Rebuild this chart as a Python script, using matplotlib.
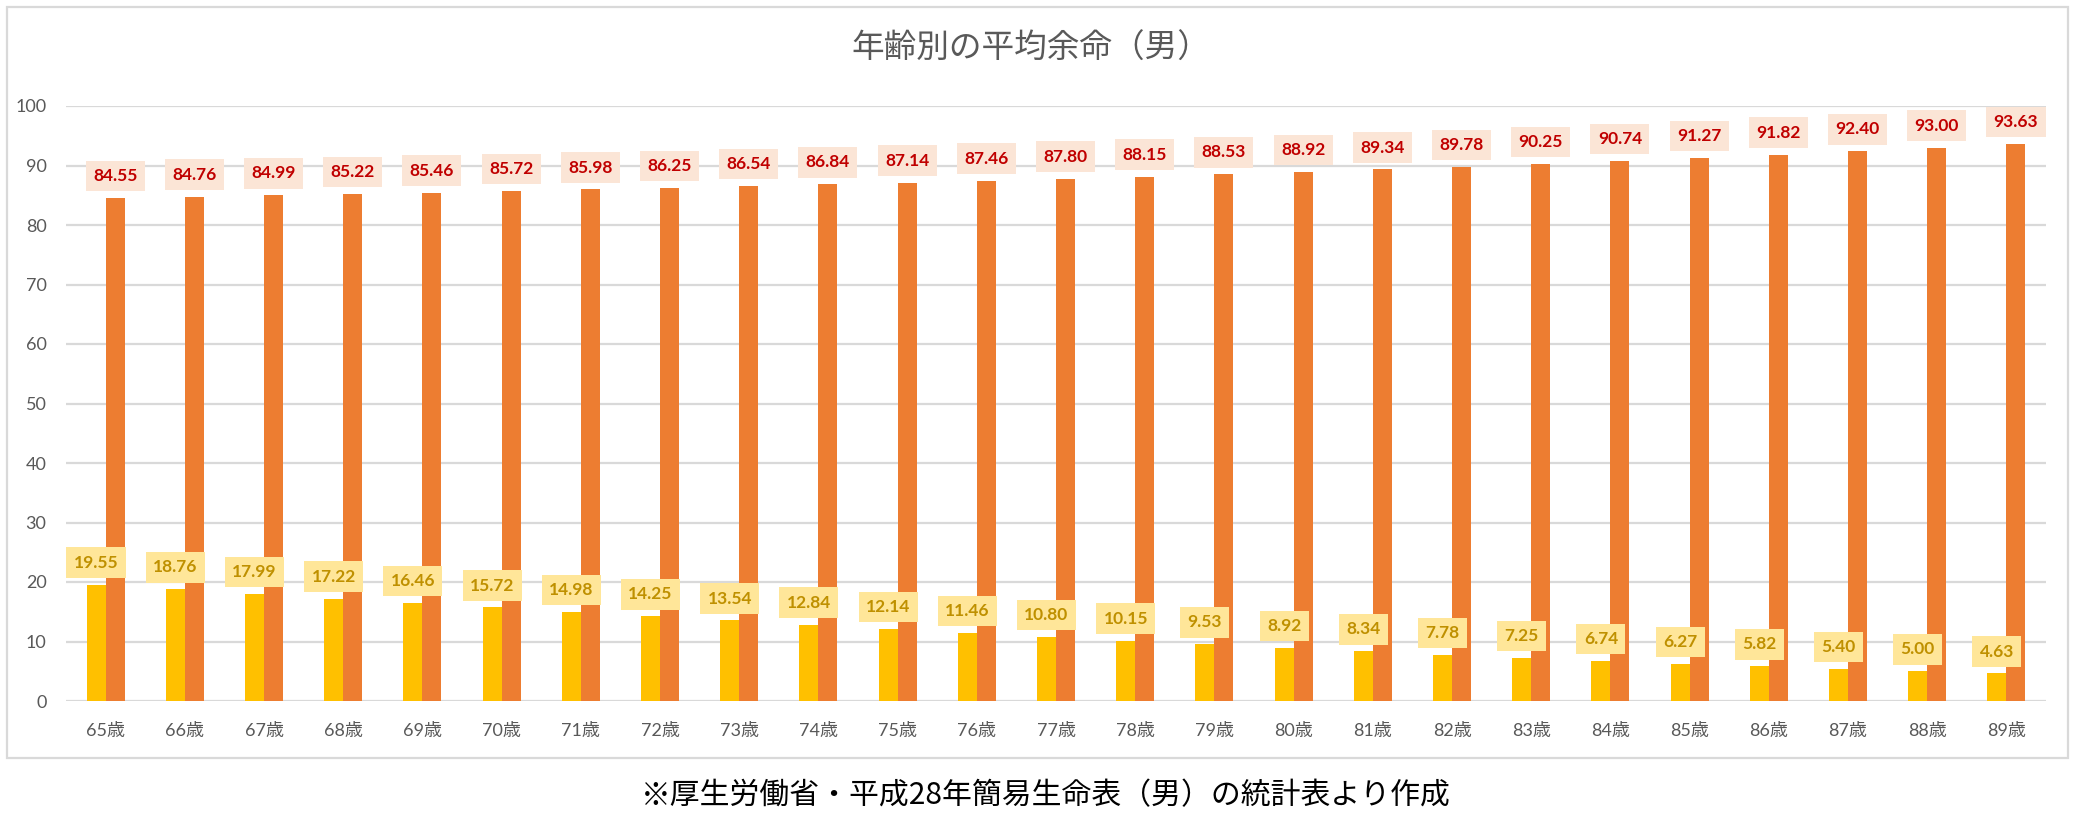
import matplotlib
matplotlib.use('Agg')
import matplotlib.pyplot as plt
from matplotlib.patches import Rectangle
import numpy as np

plt.rcParams['font.family'] = ['Lato', 'Noto Sans CJK JP', 'DejaVu Sans']

ages = [f"{a}歳" for a in range(65, 90)]
remaining = [19.55, 18.76, 17.99, 17.22, 16.46, 15.72, 14.98, 14.25, 13.54, 12.84,
             12.14, 11.46, 10.80, 10.15, 9.53, 8.92, 8.34, 7.78, 7.25, 6.74,
             6.27, 5.82, 5.40, 5.00, 4.63]
expected_age = [84.55, 84.76, 84.99, 85.22, 85.46, 85.72, 85.98, 86.25, 86.54, 86.84,
                87.14, 87.46, 87.80, 88.15, 88.53, 88.92, 89.34, 89.78, 90.25, 90.74,
                91.27, 91.82, 92.40, 93.00, 93.63]

W, H = 2075, 818
fig = plt.figure(figsize=(W / 100, H / 100), dpi=100)
ax = fig.add_axes([66 / W, 1 - 701 / H, (2046 - 66) / W, (701 - 106) / H])

x = np.arange(len(ages))
bw = 0.24
b1 = ax.bar(x - bw / 2, remaining, bw, color='#FFC000', zorder=2)
b2 = ax.bar(x + bw / 2, expected_age, bw, color='#ED7D31', zorder=2)

for rect, v in zip(b2, expected_age):
    ax.annotate(f"{v:.2f}", (rect.get_x() + rect.get_width() / 2, v),
                textcoords="offset points", xytext=(0, 10), ha='center', va='bottom',
                fontsize=12.5, fontweight='bold', color='#C00000', zorder=5,
                bbox=dict(boxstyle='square,pad=0.42', fc='#FBE5D6', ec='none'))
for rect, v in zip(b1, remaining):
    ax.annotate(f"{v:.2f}", (rect.get_x() + rect.get_width() / 2, v),
                textcoords="offset points", xytext=(0, 10), ha='center', va='bottom',
                fontsize=12.5, fontweight='bold', color='#BF9000', zorder=5,
                bbox=dict(boxstyle='square,pad=0.42', fc='#FFE699', ec='none'))

ax.set_xlim(-0.5, len(ages) - 0.5)
ax.set_ylim(0, 100)
ax.set_yticks(range(0, 101, 10))
ax.set_xticks(x)
ax.set_xticklabels(ages)
ax.tick_params(axis='both', length=0, labelsize=13, colors='#595959')
ax.tick_params(axis='y', pad=14)
ax.tick_params(axis='x', pad=16)
ax.grid(axis='y', color='#D9D9D9', linewidth=1.6, zorder=0)
ax.set_axisbelow(True)
for s in ax.spines.values():
    s.set_visible(False)

fig.text(0.497, 1 - 49 / H, "年齢別の平均余命（男）", ha='center', va='center',
         fontsize=23.5, color='#595959', family=['Noto Sans CJK JP'])
fig.text(0.504, 1 - 796 / H, "※厚生労働省・平成28年簡易生命表（男）の統計表より作成",
         ha='center', va='center', fontsize=21.5, color='black',
         family=['Noto Sans CJK JP'])

fig.patches.append(Rectangle((7 / W, 1 - 758 / H), (2068 - 7) / W, (758 - 7) / H,
                             transform=fig.transFigure, fill=False,
                             ec='#D9D9D9', lw=1.6))

fig.savefig('out.png', dpi=100)
